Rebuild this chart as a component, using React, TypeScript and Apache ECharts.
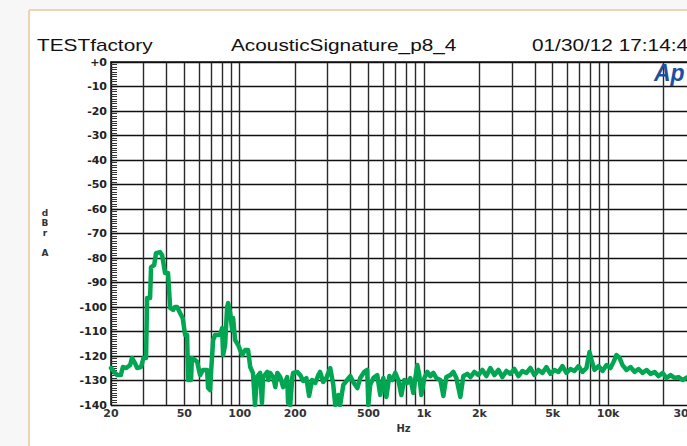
import React, { useEffect, useRef } from 'react';
import * as echarts from 'echarts';

const headerTexts = ['TESTfactory', 'AcousticSignature_p8_4', '01/30/12 17:14:45'];
const yAxisLetters = ['d', 'B', 'r', '', 'A'];
const xAxisName = 'Hz';
const logoText = 'Ap';

const yMin = -140;
const yMax = 0;
const yStep = 10;

const xMin = 20;
const xMax = 30000;
const xLabelValues = [20, 50, 100, 200, 500, 1000, 2000, 5000, 10000, 30000];
const xLabelTexts = ['20', '50', '100', '200', '500', '1k', '2k', '5k', '10k', '30k'];
const xGridValues = [
  20, 30, 40, 50, 60, 70, 80, 90, 100, 200, 300, 400, 500, 600, 700, 800, 900,
  1000, 2000, 3000, 4000, 5000, 6000, 7000, 8000, 9000, 10000, 20000,
];

const freqHz = [
  20, 20.8, 21.6, 22.6, 23.2, 24.2, 25.4, 26, 27, 27.7, 29.1, 30, 31, 31.4, 32.6, 33, 34.3, 35.1, 36.9, 37.9,
  39.3, 40.8, 41.9, 43.5, 44.5, 45.7, 47.4, 49, 50.5, 51.8, 52.4, 54.4, 55, 57.1, 58.7, 60.9, 63.2, 66.5, 67.3, 69,
  69.9, 71.7, 73.5, 78.2, 80.2, 81.2, 83.3, 85.4, 86.5, 88.7, 90.9, 92, 94.4, 98, 103, 107, 111, 114, 118, 121,
  124, 129, 132, 134, 141, 143, 146, 152, 156, 160, 166, 172, 181, 183, 188, 193, 195, 205,
  213, 221, 230, 238, 247, 257, 267, 273, 284, 295, 310, 322, 330, 343, 351, 365, 383, 398, 413, 435,
  451, 474, 492, 499, 511, 531, 558, 579, 602, 625, 649, 673, 699, 726, 754, 782, 812, 843, 876, 898,
  921, 944, 968, 1005, 1043, 1083, 1125, 1168, 1228, 1275, 1323, 1391, 1445, 1500, 1577, 1637, 1721, 1787, 1879, 1975,
  2077, 2183, 2295, 2413, 2537, 2667, 2804, 2948, 3099, 3259, 3426, 3601, 3787, 3981, 4185, 4400, 4626, 4864, 5113, 5375,
  5651, 5941, 6246, 6567, 6902, 7257, 7630, 7921, 8124, 8434, 8867, 9322, 9800, 10304, 10700, 11110, 11534, 11976, 12592, 13234,
  13914, 14628, 15378, 16166, 16994, 17868, 18788, 19752, 20766, 21830, 22952, 24130, 25372, 27008, 30000,
];

const levelDb = [
  -124.9, -126.5, -127.8, -127.8, -124.5, -124.9, -123.7, -120.8, -122.9, -124.9, -124.5, -120.8, -120.8, -96.3, -96.3, -83.7, -82.9, -78, -77.6, -78.8,
  -86.1, -86.1, -100.4, -101.2, -100, -100, -102.4, -104.5, -111.4, -111.4, -129.8, -129.8, -120.8, -121.6, -122.4, -127.8, -125.7, -125.7, -133, -133.9,
  -126.5, -113.5, -111.4, -111.4, -108.6, -119.6, -115.5, -100, -98.4, -102.4, -109.4, -104.5, -113.5, -115.5, -119.6, -117.6, -117.6, -124.5, -127, -140,
  -128.6, -126.9, -139.2, -128.6, -126.5, -129.8, -126.9, -128.6, -132.7, -126.9, -128.6, -132.7, -128.6, -139.2, -140, -128.6, -126.9, -126.5,
  -127.8, -130.2, -129.0, -136.3, -129.8, -131.0, -127.8, -126.5, -130.6, -129.0, -124.9, -131.8, -140, -135.9, -140, -131.8, -129.8, -128.2, -130.6, -133.1,
  -129.0, -126.5, -125.7, -140, -131.8, -129.0, -127.8, -135.9, -129.0, -136.7, -128.2, -129.8, -126.9, -129.8, -135.9, -129.8, -131.0, -129.0, -135.1, -129.0,
  -123.7, -127.8, -135.9, -129.0, -126.5, -128.2, -126.9, -129.0, -129.8, -136.3, -128.6, -127.8, -126.5, -129.0, -136.7, -128.2, -127.3, -128.6, -126.5, -127.8,
  -125.7, -128.2, -124.9, -127.8, -125.7, -128.6, -126.1, -127.3, -125.3, -128.2, -126.1, -126.9, -124.9, -127.8, -125.7, -126.9, -124.5, -127.3, -125.7, -126.5,
  -124.1, -126.9, -125.3, -126.1, -124.1, -126.5, -124.9, -118.4, -121.6, -125.7, -124.1, -126.1, -123.7, -124.9, -122.4, -119.6, -120.8, -123.7, -125.7, -124.5,
  -126.5, -125.3, -126.9, -125.7, -127.3, -126.5, -128.2, -126.9, -129.0, -127.8, -129.0, -128.6, -129.8, -128.6, -129.4,
];

export default function App() {
  const ref = useRef<HTMLDivElement>(null);

  useEffect(() => {
    if (!ref.current) return;
    const chart = echarts.init(ref.current, null, { renderer: 'svg' });
    const data = freqHz.map((f, i) => [f, levelDb[i]]);
    const labelFont = 'DejaVu Sans';
    const headerFont = '16px "Liberation Sans", Arial, sans-serif';

    chart.setOption({
      animation: false,
      backgroundColor: '#ffffff',
      grid: {
        left: 111,
        top: 62,
        width: 585,
        height: 343,
        containLabel: false,
        outerBoundsMode: 'none',
      },
      xAxis: {
        type: 'log',
        logBase: 10,
        min: xMin,
        max: xMax,
        name: xAxisName,
        nameLocation: 'middle',
        nameGap: 17,
        nameTextStyle: { fontFamily: labelFont, fontWeight: 'bold', fontSize: 10, color: '#333' },
        axisLine: { show: true, lineStyle: { color: '#111', width: 1.5 } },
        axisTick: { show: false, customValues: xGridValues },
        axisLabel: {
          customValues: xLabelValues,
          formatter: (v: number) => {
            const idx = xLabelValues.findIndex((x) => Math.abs(x - v) / x < 1e-6);
            return idx >= 0 ? xLabelTexts[idx] : '';
          },
          fontFamily: labelFont,
          fontWeight: 'bold',
          fontSize: 11,
          color: '#333',
          margin: 3,
          alignMaxLabel: 'right',
        },
        splitLine: { show: true, lineStyle: { color: '#2a2a2a', width: 1.4 } },
        minorTick: { show: false },
      },
      yAxis: {
        type: 'value',
        min: yMin,
        max: yMax,
        interval: yStep,
        axisLine: { show: true, lineStyle: { color: '#111', width: 1.5 } },
        axisTick: { show: true, inside: true, length: 7, lineStyle: { color: '#111', width: 1.2 } },
        minorTick: { show: true, splitNumber: 10, length: 6, lineStyle: { color: '#333', width: 1 } },
        axisLabel: {
          formatter: (v: number) => (v === 0 ? '+0' : String(v)),
          fontFamily: labelFont,
          fontWeight: 'bold',
          fontSize: 11,
          color: '#222',
          margin: 4,
        },
        splitLine: { show: true, lineStyle: { color: '#111', width: 1.4 } },
      },
      series: [
        {
          type: 'line',
          data,
          showSymbol: false,
          symbol: 'none',
          clip: true,
          lineStyle: { color: '#00a651', width: 4.5, join: 'round', cap: 'round' },
          z: 5,
        },
      ],
      graphic: [
        { type: 'rect', silent: true, shape: { x: 0, y: 0, width: 28, height: 446 }, style: { fill: '#f7f7f7' } },
        { type: 'rect', silent: true, shape: { x: 0, y: 0, width: 687, height: 9 }, style: { fill: '#f7f7f7' } },
        { type: 'line', silent: true, shape: { x1: 29, y1: 10, x2: 29, y2: 446 }, style: { stroke: '#ecd5b0', lineWidth: 2 } },
        { type: 'line', silent: true, shape: { x1: 29, y1: 10, x2: 687, y2: 10 }, style: { stroke: '#ecd5b0', lineWidth: 2 } },
        {
          type: 'text', x: 37, y: 45, scaleX: 1.3,
          style: { text: headerTexts[0], font: headerFont, fill: '#111', verticalAlign: 'middle', align: 'left' },
        },
        {
          type: 'text', x: 231, y: 45, scaleX: 1.3,
          style: { text: headerTexts[1], font: headerFont, fill: '#111', verticalAlign: 'middle', align: 'left' },
        },
        {
          type: 'text', x: 532, y: 45, scaleX: 1.3,
          style: { text: headerTexts[2], font: headerFont, fill: '#111', verticalAlign: 'middle', align: 'left' },
        },
        {
          type: 'text', x: 45, y: 208,
          style: { text: yAxisLetters.join('\n'), font: 'bold 9px "DejaVu Sans", sans-serif', fill: '#333', lineHeight: 10, verticalAlign: 'top', align: 'center' },
        },
        {
          type: 'text', x: 654, y: 73,
          style: { text: logoText, font: 'italic bold 23px "Liberation Sans", Arial, sans-serif', fill: '#1d4f9f', verticalAlign: 'middle', align: 'left' },
          z: 10,
        },
      ],
    });

    return () => chart.dispose();
  }, []);

  return <div ref={ref} style={{ position: 'fixed', left: 0, top: 0, width: 687, height: 446 }} />;
}
